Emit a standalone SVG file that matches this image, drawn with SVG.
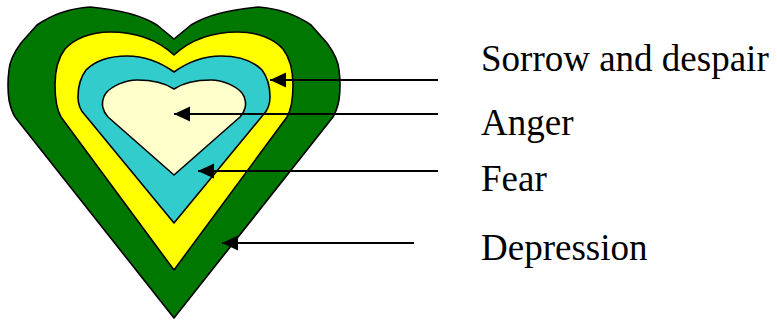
<svg xmlns="http://www.w3.org/2000/svg" width="777" height="320" viewBox="0 0 777 320">
<style>
.h{stroke:#000;stroke-width:1.6;stroke-linejoin:round}
.c{stroke:#000;stroke-width:2;fill:none}
.t{font-family:"Liberation Serif","Times New Roman",serif;font-size:37px;fill:#000}
</style>
<defs>
<marker id="ah" markerUnits="userSpaceOnUse" markerWidth="18" markerHeight="16" refX="16" refY="7.5" orient="auto" viewBox="0 0 18 16">
<polygon points="0,0 16,7.5 0,15" fill="#000"/>
</marker>
</defs>
<g id="depression">
<path class="h" fill="#007700" d="M174,39 L157,25 Q135,11 90,7 Q60,9 37,25 L21,43 Q10,58 9,70 Q7,85 9,100 Q11,110 15,117 L174,318 L333,117 Q337,110 339,100 Q341,85 339,70 Q338,58 327,43 L311,25 Q288,9 258,7 Q213,11 191,25 Z"/>
</g>
<g id="sorrow">
<path class="h" fill="#FFFF00" d="M174,55 C160,42 140,32 110,32 C90,32 74,39 65,49 C58,58 55,72 55,85 C55,100 57,110 61,117 L174,270 L287,117 C291,110 293,100 293,85 C293,72 290,58 283,49 C274,39 258,32 238,32 C208,32 188,42 174,55 Z"/>
</g>
<g id="fear">
<path class="h" fill="#33CCCC" d="M174,72 C160,62 145,56 127,56 C110,56 96,60 86,70 C80,78 78,88 78,97 C78,104 80,110 85,115 L174,223 L263,115 C268,110 270,104 270,97 C270,88 268,78 262,70 C252,60 238,56 221,56 C203,56 188,62 174,72 Z"/>
</g>
<g id="anger">
<path class="h" fill="#FFFFCC" d="M174,89 C165,83 152,80 137,80 C125,80 112,86 106,93 C102,98 102,105 103,108 C104,112 105,114 108,117 L174,175 L240,117 C243,114 244,112 245,108 C246,105 246,98 242,93 C236,86 223,80 211,80 C196,80 183,83 174,89 Z"/>
</g>
<g id="connectors">
<line class="c" x1="438" y1="80" x2="270" y2="80" marker-end="url(#ah)"/>
<line class="c" x1="438" y1="114" x2="174" y2="114" marker-end="url(#ah)"/>
<line class="c" x1="438" y1="171" x2="198" y2="171" marker-end="url(#ah)"/>
<line class="c" x1="414" y1="243" x2="222" y2="243" marker-end="url(#ah)"/>
</g>
<g id="labels">
<text class="t" x="481" y="71">Sorrow and despair</text>
<text class="t" x="481" y="135">Anger</text>
<text class="t" x="481" y="191">Fear</text>
<text class="t" x="481" y="260">Depression</text>
</g>
</svg>
